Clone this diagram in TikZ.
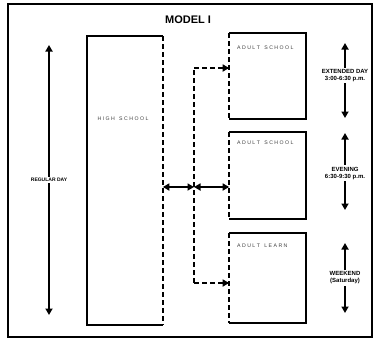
\documentclass[tikz,border=0pt]{standalone}
\usepackage{fontspec}
\setmainfont{Liberation Sans}
\usetikzlibrary{arrows.meta}
\begin{document}
\begin{tikzpicture}[x=1pt,y=-1pt,
  line width=1.7pt,
  tip/.style={-{Triangle[width=7pt,length=6.5pt]}},
  dtip/.style={{Triangle[width=7pt,length=6.5pt]}-{Triangle[width=7pt,length=6.5pt]}},
  dashline/.style={dash pattern=on 5pt off 3pt},
  frame/.style={draw=none, inner sep=0pt},
  lab/.style={font=\bfseries\fontsize{6}{7}\selectfont, align=center, fill=white, inner sep=1.5pt},
  ttl/.style={font=\fontsize{5.2}{6}\selectfont, text=black!75, anchor=north west}]
\useasboundingbox (0,0) rectangle (377,343);
\draw[line width=1.3pt] (8,4) rectangle (372,337);
\node[font=\bfseries\fontsize{11}{13}\selectfont] (title) at (188,20) {MODEL I};
% regular day arrow
\coordinate (rdT) at (49,45);
\coordinate (rdB) at (49,315);
\draw[dtip] (rdT) -- (rdB) node[lab, midway, font=\bfseries\fontsize{5}{6}\selectfont] (rdl) {REGULAR DAY};
% high school box
\node[frame, minimum width=74pt, minimum height=287pt] (hs) at (125,180.5) {};
\draw (hs.north east) -- (hs.north west) -- (hs.south west) -- (hs.south east);
\draw[dashline] (hs.north east) -- (hs.south east);
\node[font=\fontsize{5.2}{6}\selectfont, text=black!75] (hst) at (123,119) {H I G H \ \ S C H O O L};
% adult boxes
\node[frame, minimum width=75pt, minimum height=84pt] (b1) at (267.5,76) {};
\node[frame, minimum width=75pt, minimum height=85pt] (b2) at (267.5,175.5) {};
\node[frame, minimum width=75pt, minimum height=88pt] (b3) at (267.5,278) {};
\foreach \b in {b1,b2,b3}{
  \draw (\b.north west) -- (\b.north east) -- (\b.south east) -- (\b.south west);
  \draw[dashline] (\b.north west) -- (\b.south west);
}
\node[ttl] (t1) at (233,42) {A D U L T \ \ S C H O O L};
\node[ttl] (t2) at (233,137) {A D U L T \ \ S C H O O L};
\node[ttl] (t3) at (233,240) {A D U L T \ \ L E A R N};
% connectors
\coordinate (vT) at (194,68);
\coordinate (vB) at (194,283);
\coordinate (vM) at (194,187);
\draw[dashline] (vB) -- (vT);
\draw[dashline, tip] (vT) -- (b1.west |- vT);
\draw[dashline, tip] (vB) -- (b3.west |- vB);
\draw[dtip] (hs.east |- vM) -- (vM);
\draw[dtip] (vM) -- (b2.west |- vM);
% right arrows
\coordinate (e1) at (345,43); \coordinate (e2) at (345,118);
\coordinate (v1) at (345,133); \coordinate (v2) at (345,210);
\coordinate (w1) at (345,243); \coordinate (w2) at (345,313);
\draw[dtip] (e1) -- (e2) node[lab, pos=0.43] (el) {EXTENDED DAY\\3:00-6:30 p.m.};
\draw[dtip] (v1) -- (v2) node[lab, pos=0.52] (vl) {EVENING\\6:30-9:30 p.m.};
\draw[dtip] (w1) -- (w2) node[lab, midway] (wl) {WEEKEND\\(Saturday)};
\end{tikzpicture}
\end{document}
